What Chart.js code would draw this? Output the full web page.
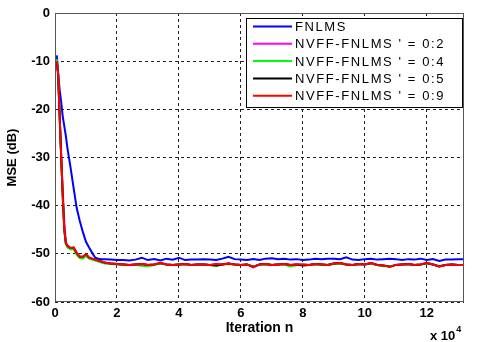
<!DOCTYPE html>
<html>
<head>
<meta charset="utf-8">
<script src="https://cdn.jsdelivr.net/npm/chart.js@4/dist/chart.umd.min.js"></script>
<style>
html,body{margin:0;padding:0;background:#fff;}
#wrap{width:480px;height:342px;position:relative;}
</style>
</head>
<body>
<div id="wrap"><canvas id="c" width="480" height="342"></canvas></div>
<script>
// Iteration n (x 10^4)
const iterations = [0.06,0.1,0.15,0.2,0.25,0.3,0.35,0.4,0.5,0.6,0.7,0.8,0.9,1.0,1.1,1.2,1.3,1.4,1.5,1.6,1.8,2.0,
2.2,2.4,2.6,2.8,3.0,3.2,3.4,3.6,3.8,4.0,4.2,4.4,4.6,4.8,5.0,5.2,5.4,5.6,5.8,6.0,6.2,6.4,6.6,6.8,7.0,7.2,7.4,7.6,7.8,8.0,
8.2,8.4,8.6,8.8,9.0,9.2,9.4,9.6,9.8,10.0,10.2,10.4,10.6,10.8,11.0,11.2,11.4,11.6,11.8,12.0,12.2,12.4,12.6,12.8,13.0,13.2];

const seriesLabels = ["FNLMS","NVFF-FNLMS ' = 0:2","NVFF-FNLMS ' = 0:4","NVFF-FNLMS ' = 0:5","NVFF-FNLMS ' = 0:9"];
const seriesColors = ["#0000ff","#ff00ff","#00ff00","#000000","#ff0000"];

const fnlms = [-8.8,-12.5,-16,-18.5,-21.5,-23.5,-25.5,-28,-32,-36.3,-40.5,-43.2,-45.5,-47.5,-48.7,-49.8,-50.8,-51.0,-51.1,-51.1,-51.2,-51.3,
-51.3,-51.4,-51.2,-50.8,-51.3,-51.1,-51.4,-51.0,-51.2,-50.8,-51.3,-51.2,-51.2,-51.1,-51.2,-51.3,-51.0,-50.6,-51.1,-51.2,-51.3,-51.1,-51.3,-51.0,-50.9,-51.1,-51.0,-51.2,-51.1,-51.3,
-51.2,-51.0,-51.1,-51.0,-51.0,-51.1,-50.7,-51.2,-51.3,-51.1,-51.0,-51.2,-51.1,-51.0,-51.1,-51.3,-51.1,-51.2,-51.0,-51.3,-51.1,-51.5,-51.2,-51.2,-51.1,-51.1];

const nvff02 = [-10.2,-13,-21,-29.5,-37,-43.5,-47.5,-48.6,-49.0,-48.8,-50.0,-50.7,-50.7,-50.2,-50.9,-51.1,-51.3,-51.5,-51.7,-51.9,-52.0,-52.1,
-52.2,-52.3,-52.2,-52.1,-52.3,-52.2,-51.9,-52.2,-52.3,-52.2,-52.1,-52.3,-52.2,-52.2,-52.3,-52.1,-52.2,-52.0,-52.2,-52.3,-52.2,-52.8,-52.2,-52.1,-52.3,-52.2,-52.1,-52.3,-52.2,-52.2,
-52.3,-52.1,-52.2,-52.3,-52.0,-51.9,-52.2,-52.3,-52.1,-52.2,-51.9,-52.3,-52.4,-52.7,-52.3,-52.2,-52.1,-52.3,-52.2,-51.9,-52.2,-52.6,-52.3,-52.2,-52.3,-52.3];

const nvff04 = [-9.6,-12.3,-21.3,-30,-38,-45,-48,-48.6,-49.1,-49.0,-50.2,-50.9,-51.0,-50.4,-51.0,-51.2,-51.4,-51.6,-51.8,-52.0,-52.1,-52.2,
-52.3,-52.3,-52.3,-52.5,-52.6,-52.3,-52.0,-52.2,-52.3,-52.2,-52.2,-52.3,-52.2,-52.2,-52.3,-52.5,-52.2,-52.1,-52.2,-52.3,-52.2,-52.6,-52.2,-52.2,-52.3,-52.2,-52.2,-52.6,-52.3,-52.2,
-52.3,-52.2,-52.2,-52.3,-52.1,-52.0,-52.2,-52.3,-52.2,-52.2,-52.0,-52.3,-52.6,-52.6,-52.3,-52.2,-52.2,-52.3,-52.2,-52.0,-52.2,-52.5,-52.3,-52.2,-52.3,-52.3];

const nvff05 = [-10.1,-12.6,-21.4,-30,-38,-45,-47.8,-48.3,-48.8,-48.7,-49.8,-50.6,-50.6,-50.1,-50.8,-51.0,-51.2,-51.4,-51.6,-51.8,-52.0,-52.1,
-52.2,-52.3,-52.2,-52.1,-52.3,-52.2,-51.9,-52.2,-52.3,-52.2,-52.1,-52.3,-52.2,-52.2,-52.3,-52.4,-52.2,-52.0,-52.2,-52.3,-52.2,-52.7,-52.2,-52.1,-52.3,-52.2,-52.1,-52.3,-52.2,-52.4,
-52.3,-52.1,-52.2,-52.3,-52.0,-51.9,-52.2,-52.3,-52.1,-52.2,-51.9,-52.3,-52.4,-52.7,-52.3,-52.2,-52.1,-52.3,-52.2,-51.9,-52.2,-52.6,-52.3,-52.2,-52.3,-52.3];

const nvff09 = [-10.0,-12.5,-21.5,-30,-38,-45,-47.8,-48.3,-48.8,-48.7,-49.8,-50.6,-50.6,-50.1,-50.8,-51.0,-51.2,-51.4,-51.6,-51.8,-52.0,-52.1,
-52.2,-52.3,-52.2,-52.1,-52.3,-52.2,-51.9,-52.2,-52.3,-52.2,-52.1,-52.3,-52.2,-52.2,-52.3,-52.1,-52.2,-52.0,-52.2,-52.3,-52.2,-52.7,-52.2,-52.1,-52.3,-52.2,-52.1,-52.3,-52.2,-52.2,
-52.3,-52.1,-52.2,-52.3,-52.0,-51.9,-52.2,-52.3,-52.1,-52.2,-51.9,-52.3,-52.4,-52.7,-52.3,-52.2,-52.1,-52.3,-52.2,-51.9,-52.2,-52.6,-52.3,-52.2,-52.3,-52.3];

const xTicksStep = 2;
const yTicksStep = 10;

const allSeries = [fnlms, nvff02, nvff04, nvff05, nvff09];
const datasets = allSeries.map((vals, i) => ({
  label: seriesLabels[i],
  data: vals.map((v, k) => ({x: iterations[k], y: v})),
  borderColor: seriesColors[i],
  backgroundColor: seriesColors[i],
  borderWidth: 2,
  pointRadius: 0,
  tension: 0,
  fill: false,
  order: allSeries.length - 1 - i   // later series drawn on top (red last)
}));

const FONT = "'Liberation Sans', Arial, sans-serif";

const deco = {
  id: 'deco',
  afterDatasetsDraw(chart) {
    const {ctx, chartArea: a} = chart;
    ctx.save();
    ctx.strokeStyle = '#555';
    ctx.lineWidth = 1;
    ctx.strokeRect(a.left + 0.5, a.top + 0.5, a.right - a.left - 1, a.bottom - a.top - 1);
    // legend box
    const bx = 246, by = 18, bw = 216, bh = 89;
    ctx.fillStyle = '#fff';
    ctx.fillRect(bx, by, bw, bh);
    ctx.strokeStyle = '#000';
    ctx.strokeRect(bx + 0.5, by + 0.5, bw, bh);
    ctx.font = '13px ' + FONT;
    ctx.letterSpacing = '1.6px';
    ctx.textBaseline = 'middle';
    chart.data.datasets.forEach((ds, i) => {
      const y = by + 8.5 + i * 17.3;
      ctx.strokeStyle = ds.borderColor;
      ctx.lineWidth = 2;
      ctx.beginPath();
      ctx.moveTo(bx + 7, y);
      ctx.lineTo(bx + 46, y);
      ctx.stroke();
      ctx.fillStyle = '#000';
      ctx.fillText(ds.label, bx + 49, y + 1);
    });
    ctx.letterSpacing = '0px';
    // exponent label
    ctx.fillStyle = '#000';
    ctx.textBaseline = 'alphabetic';
    ctx.font = 'bold 13px ' + FONT;
    ctx.fillText('x 10', a.right - 34, 340);
    const w = ctx.measureText('x 10').width;
    ctx.font = 'bold 9px ' + FONT;
    ctx.fillText('4', a.right - 34 + w + 1, 332);
    ctx.restore();
  }
};

new Chart(document.getElementById('c'), {
  type: 'line',
  data: {datasets},
  plugins: [deco],
  options: {
    responsive: false,
    animation: false,
    events: [],
    layout: {padding: {left: 0, right: 16, top: 13, bottom: 0}},
    plugins: {legend: {display: false}, tooltip: {enabled: false}},
    scales: {
      x: {
        type: 'linear',
        min: 0, max: 13.2,
        afterFit(s) { s.height = 40; },
        ticks: {stepSize: xTicksStep, includeBounds: false, padding: 4, color: '#000', maxRotation: 0,
          font: {family: FONT, size: 13, weight: 'bold'}},
        grid: {color: '#222', drawTicks: false, lineWidth: 1},
        border: {display: false, dash: [3, 3]},
        title: {display: true, text: 'Iteration n', color: '#000', padding: {top: 0, bottom: 5},
          font: {family: FONT, size: 14, weight: 'bold'}}
      },
      y: {
        min: -60, max: 0,
        afterFit(s) { s.width = 55; },
        ticks: {stepSize: yTicksStep, padding: 5, color: '#000',
          font: {family: FONT, size: 13, weight: 'bold'}},
        grid: {color: '#222', drawTicks: false, lineWidth: 1},
        border: {display: false, dash: [3, 3]},
        title: {display: true, text: 'MSE (dB)', color: '#000', padding: {top: 5, bottom: 0},
          font: {family: FONT, size: 13, weight: 'bold'}}
      }
    }
  }
});
</script>
</body>
</html>
